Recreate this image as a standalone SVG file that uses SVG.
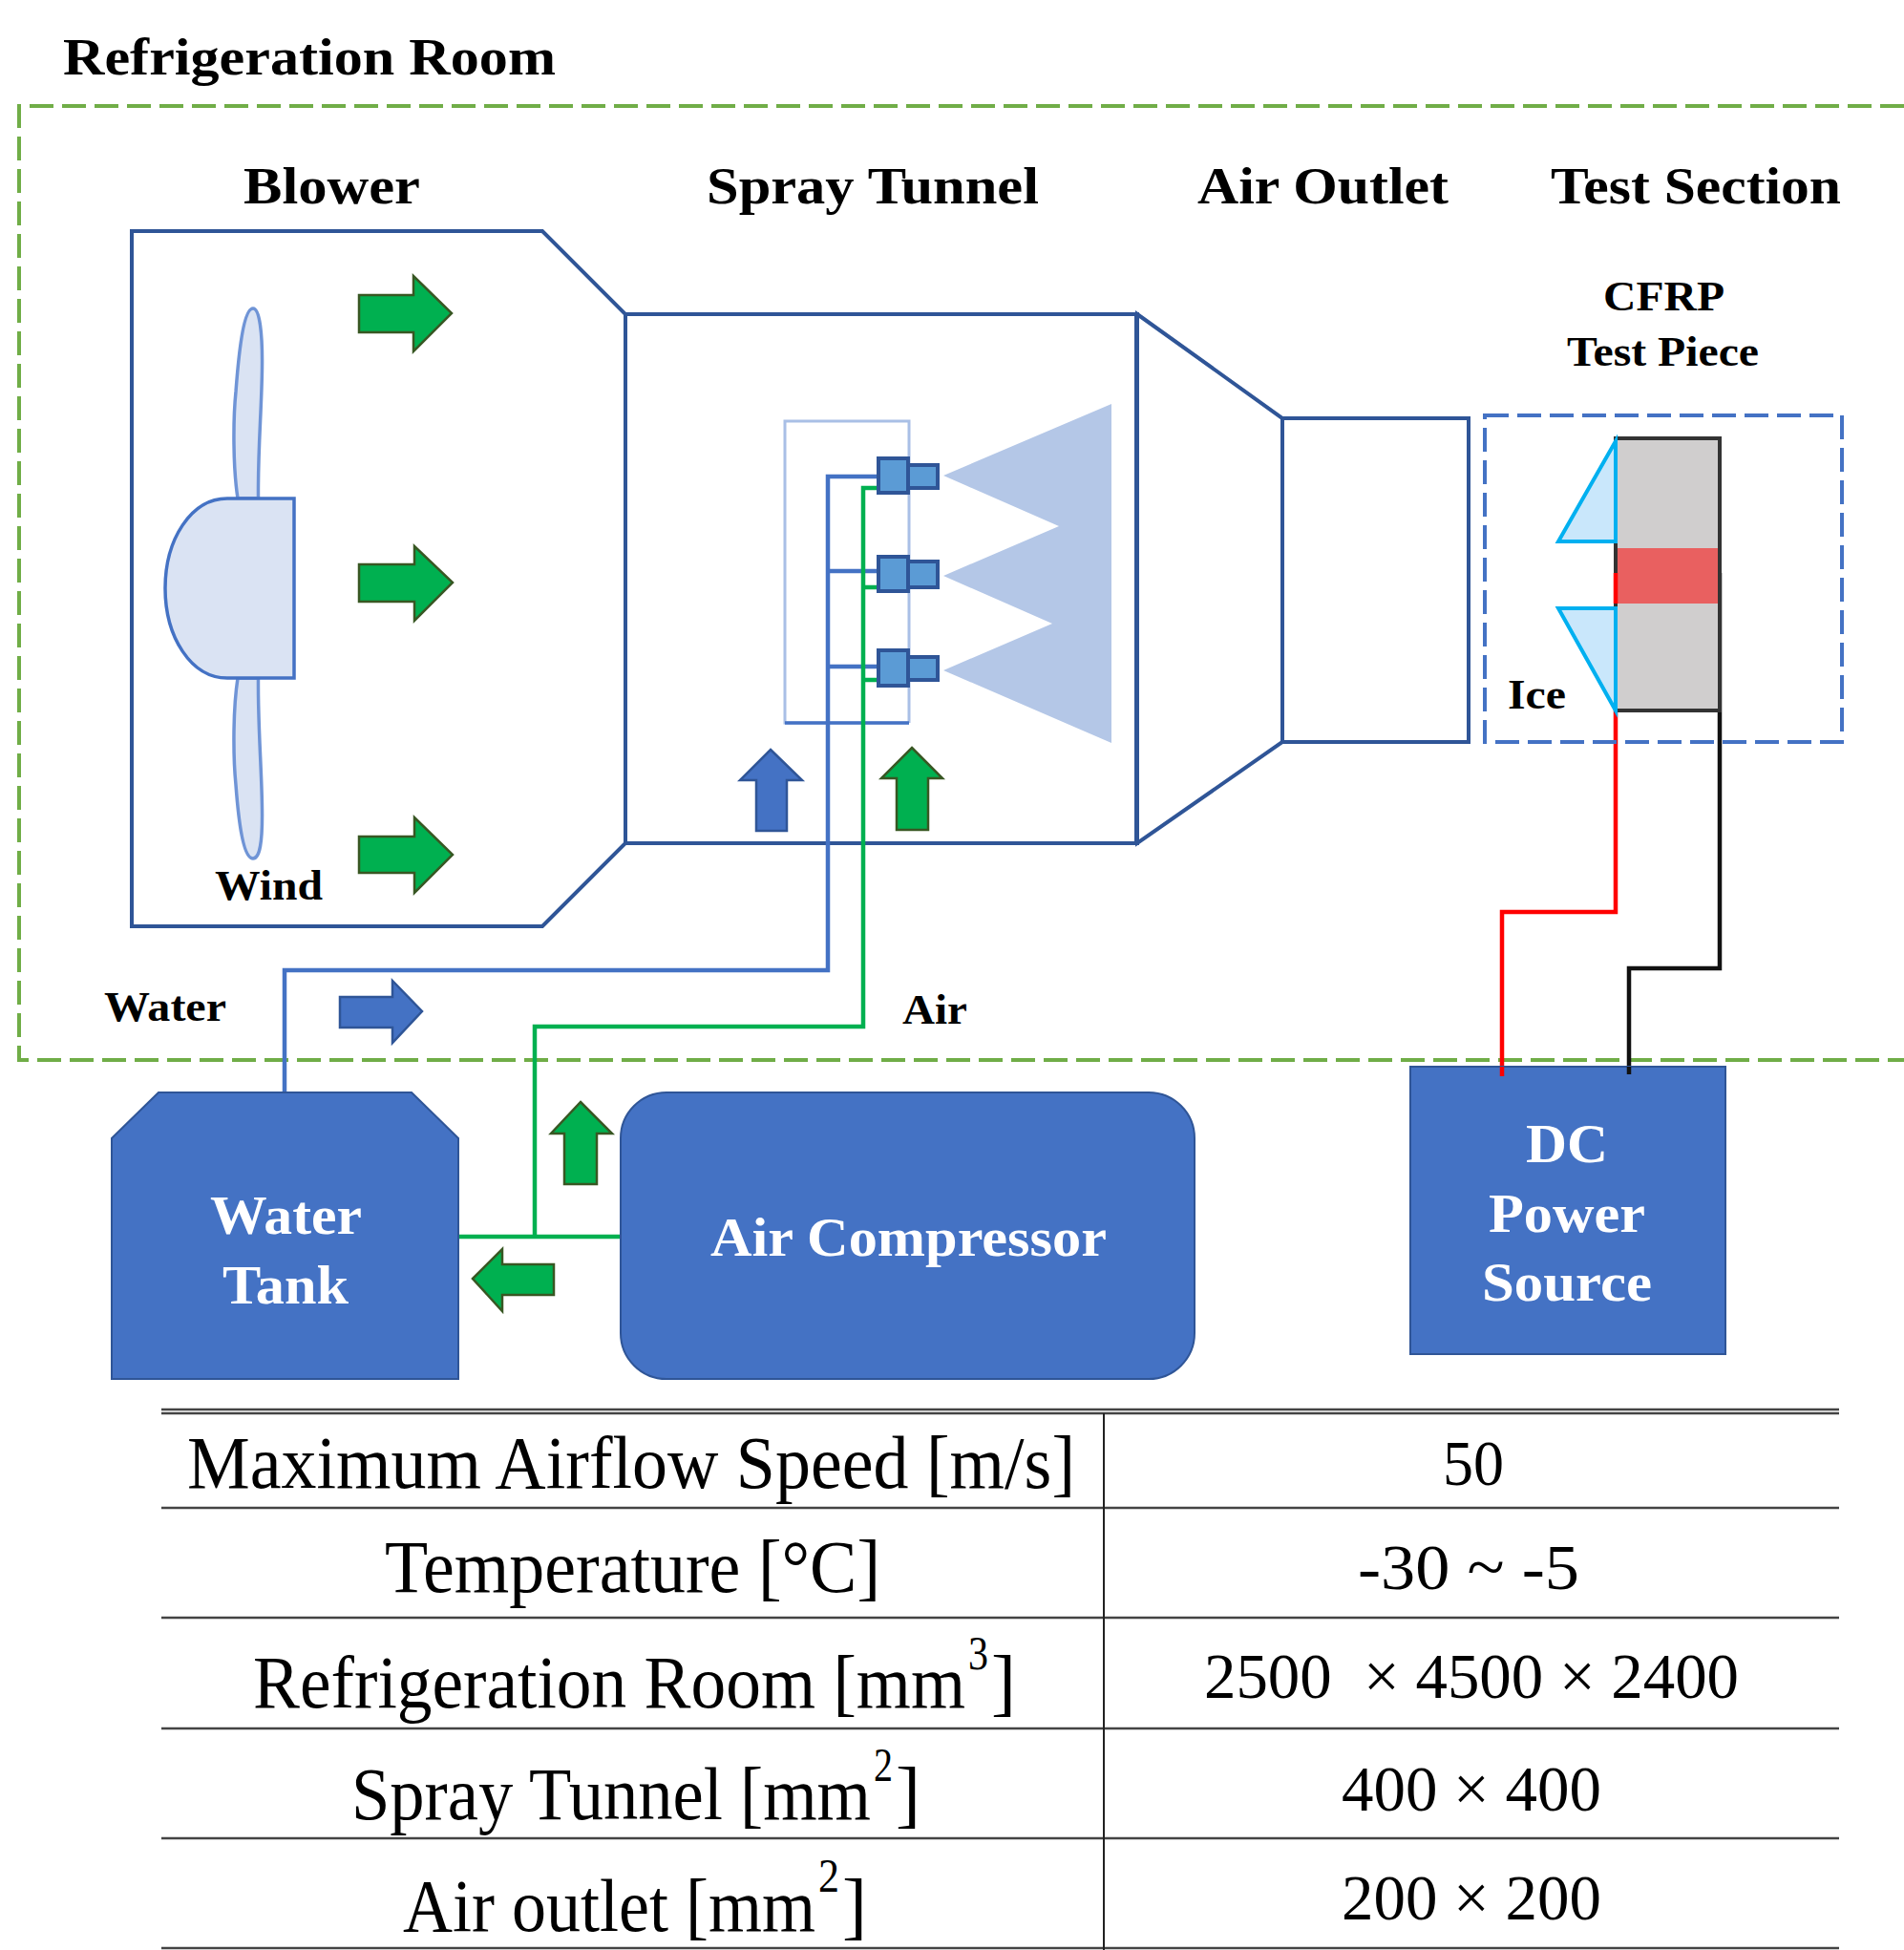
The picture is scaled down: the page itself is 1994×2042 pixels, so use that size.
<svg xmlns="http://www.w3.org/2000/svg" width="1994" height="2042" viewBox="0 0 1994 2042">
<defs>
<style>
text{font-family:"Liberation Serif","Times New Roman",serif}
.b{font-weight:bold;fill:#000}
.l{font-size:54px}
.m{font-size:45px}
.w{font-weight:bold;fill:#fff;font-size:58px}
.t{font-size:78px;fill:#000}
.n{font-size:68px;fill:#000}
.s{font-size:50px;fill:#000}
.duct{fill:#fff;stroke:#2f5597;stroke-width:4;stroke-linejoin:miter}
.ga{fill:#00b050;stroke:#385723;stroke-width:2.5}
.ba{fill:#4472c4;stroke:#2f5597;stroke-width:2.5}
.pipe{fill:none;stroke:#4472c4;stroke-width:4.5}
.air{fill:none;stroke:#00b050;stroke-width:4.5}
.fan{fill:#dae3f3;stroke:#4472c4;stroke-width:3.5}
.blade{fill:#dae3f3;stroke:#6f94d6;stroke-width:3.5}
.noz{fill:#5b9bd5;stroke:#2f5597;stroke-width:4}
.ice{fill:#c9e7fb;stroke:#00b0f0;stroke-width:4}
.box{fill:#4472c4;stroke:#2f5597;stroke-width:2}
.rule{stroke:#444;stroke-width:2.5}
</style>
</defs>
<rect width="1994" height="2042" fill="#fff"/>

<g id="refrigeration-room">
<path d="M1994 111H20V1110H1994" fill="none" stroke="#70ad47" stroke-width="4" stroke-dasharray="25 9"/>
<text class="b l" x="66" y="78" textLength="516" lengthAdjust="spacingAndGlyphs">Refrigeration Room</text>
</g>

<g id="blower">
<path class="duct" d="M138 242H568L655 329V883L568 970H138Z"/>
<text class="b l" x="255" y="213" textLength="185" lengthAdjust="spacingAndGlyphs">Blower</text>
<path class="blade" d="M249 522C244 490 244 440 247 410C250 370 255 323 265 323C272 323 275 350 274.5 385C274 430 270 470 270.5 522Z"/>
<path class="blade" d="M249 710C244 742 244 792 247 822C250 862 255 899 265 899C272 899 275 882 274.5 847C274 802 270 762 270.5 710Z"/>
<path class="fan" d="M308 522H238C200 522 173 565 173 616C173 667 200 710 238 710H308Z"/>
<text class="b m" x="225" y="942" textLength="113" lengthAdjust="spacingAndGlyphs">Wind</text>
<path class="ga" d="M376 309H433V289L473 328L433 368V348H376Z"/>
<path class="ga" d="M376 591H434V572L474 610L434 650V630H376Z"/>
<path class="ga" d="M376 876H434V856L474 895L434 935V914H376Z"/>
</g>

<g id="spray-tunnel">
<rect class="duct" x="655" y="329" width="536" height="554"/>
<path d="M1191 329V883" stroke="#2f5597" stroke-width="6"/>
<text class="b l" x="740" y="213" textLength="348" lengthAdjust="spacingAndGlyphs">Spray Tunnel</text>
<path d="M988 498L1164 423V778L988 702L1102 653L988 603L1109 551Z" fill="#b4c7e7"/>
<path d="M952 757H822V441H952V757" fill="none" stroke="#a9bfe6" stroke-width="3"/>
<path d="M822 757H952" fill="none" stroke="#4472c4" stroke-width="3.5"/>
<path class="ba" d="M807 785L840 817H824V870H792V817H775Z"/>
<path class="ga" d="M955 783L987 815H972V869H939V815H923Z"/>
</g>

<g id="air-outlet">
<path class="duct" d="M1191 329L1343 438V777L1191 883Z"/>
<rect class="duct" x="1343" y="438" width="195" height="339"/>
<text class="b l" x="1254" y="213" textLength="263" lengthAdjust="spacingAndGlyphs">Air Outlet</text>
</g>

<g id="connectors">
<path class="pipe" d="M298 1144V1016H867V499H920"/>
<path class="pipe" d="M865 598H920M865 698H920"/>
<path class="air" d="M920 511H904V1075H560V1295"/>
<path class="air" d="M904 615H920M904 712H920"/>
<path class="air" d="M479 1295H650" stroke-width="6"/>
<path d="M1692 730V955H1573V1127" fill="none" stroke="#f00" stroke-width="4.5"/>
<path d="M1801 600V1014H1706V1125" fill="none" stroke="#111" stroke-width="4.5"/>
</g>

<g id="nozzles">
<rect class="noz" x="951" y="487" width="31" height="24"/><rect class="noz" x="920" y="480" width="31" height="36"/>
<rect class="noz" x="951" y="588" width="31" height="27"/><rect class="noz" x="920" y="583" width="31" height="36"/>
<rect class="noz" x="951" y="688" width="31" height="24"/><rect class="noz" x="920" y="681" width="31" height="37"/>
</g>

<g id="test-section">
<rect x="1555" y="435" width="374" height="342" fill="none" stroke="#4472c4" stroke-width="4" stroke-dasharray="25 9"/>
<text class="b l" x="1624" y="213" textLength="304" lengthAdjust="spacingAndGlyphs">Test Section</text>
<text class="b m" x="1679" y="325" textLength="127" lengthAdjust="spacingAndGlyphs">CFRP</text>
<text class="b m" x="1641" y="383" textLength="201" lengthAdjust="spacingAndGlyphs">Test Piece</text>
<rect x="1692" y="459" width="109" height="285" fill="#d0cece" stroke="#333" stroke-width="4"/>
<rect x="1694" y="574" width="105" height="58" fill="#e96060"/>
<path d="M1692 600V632" stroke="#f00" stroke-width="4.5"/>
<path class="ice" d="M1692 462L1632 567H1692Z"/>
<path class="ice" d="M1632 637H1692V744Z"/>
<text class="b m" x="1579" y="742" textLength="61" lengthAdjust="spacingAndGlyphs">Ice</text>
</g>

<g id="water-line-label">
<text class="b m" x="109" y="1069" textLength="128" lengthAdjust="spacingAndGlyphs">Water</text>
<path class="ba" d="M356 1044H411V1027L442 1059L411 1092V1076H356Z"/>
</g>

<g id="air-line-label">
<text class="b m" x="945" y="1072" textLength="68" lengthAdjust="spacingAndGlyphs">Air</text>
<path class="ga" d="M608 1154L641 1187H625V1240H591V1187H577Z"/>
<path class="ga" d="M495 1339L526 1308V1324H580V1356H526V1373Z"/>
</g>

<g id="water-tank">
<path class="box" d="M166 1144H431L480 1192V1444H117V1192Z"/>
<text class="w" x="220" y="1292" textLength="159" lengthAdjust="spacingAndGlyphs">Water</text>
<text class="w" x="233" y="1365" textLength="132" lengthAdjust="spacingAndGlyphs">Tank</text>
</g>

<g id="air-compressor">
<rect class="box" x="650" y="1144" width="601" height="300" rx="48" ry="48"/>
<text class="w" x="744" y="1315" textLength="415" lengthAdjust="spacingAndGlyphs">Air Compressor</text>
</g>

<g id="dc-power-source">
<rect class="box" x="1477" y="1117" width="330" height="301"/>
<path d="M1573 1117V1127" stroke="#f00" stroke-width="4.5"/>
<path d="M1706 1117V1125" stroke="#111" stroke-width="4.5"/>
<text class="w" x="1598" y="1217" textLength="86" lengthAdjust="spacingAndGlyphs">DC</text>
<text class="w" x="1559" y="1290" textLength="164" lengthAdjust="spacingAndGlyphs">Power</text>
<text class="w" x="1552" y="1362" textLength="178" lengthAdjust="spacingAndGlyphs">Source</text>
</g>

<g id="table">
<path class="rule" d="M169 1476H1926M169 1480H1926M169 1579H1926M169 1694H1926M169 1810H1926M169 1925H1926M169 2040H1926"/>
<path d="M1156 1480V2042" stroke="#222" stroke-width="2"/>
<text class="t" x="196" y="1558" textLength="930" lengthAdjust="spacingAndGlyphs">Maximum Airflow Speed [m/s]</text>
<text class="t" x="403" y="1667" textLength="519" lengthAdjust="spacingAndGlyphs">Temperature [°C]</text>
<text class="t" x="265" y="1788" textLength="746" lengthAdjust="spacingAndGlyphs">Refrigeration Room [mm</text>
<text class="s" x="1014" y="1748" textLength="21" lengthAdjust="spacingAndGlyphs">3</text>
<text class="t" x="1038" y="1788">]</text>
<text class="t" x="368" y="1905" textLength="544" lengthAdjust="spacingAndGlyphs">Spray Tunnel [mm</text>
<text class="s" x="915" y="1865" textLength="20" lengthAdjust="spacingAndGlyphs">2</text>
<text class="t" x="938" y="1905">]</text>
<text class="t" x="422" y="2022" textLength="432" lengthAdjust="spacingAndGlyphs">Air outlet [mm</text>
<text class="s" x="857" y="1981" textLength="22" lengthAdjust="spacingAndGlyphs">2</text>
<text class="t" x="882" y="2022">]</text>
<text class="n" x="1511" y="1555" textLength="64" lengthAdjust="spacingAndGlyphs">50</text>
<text class="n" x="1422" y="1664" textLength="232" lengthAdjust="spacingAndGlyphs">-30 ~ -5</text>
<text class="n" x="1261" y="1778" textLength="560" lengthAdjust="spacingAndGlyphs" xml:space="preserve">2500  × 4500 × 2400</text>
<text class="n" x="1405" y="1896" textLength="272" lengthAdjust="spacingAndGlyphs">400 × 400</text>
<text class="n" x="1405" y="2010" textLength="272" lengthAdjust="spacingAndGlyphs">200 × 200</text>
</g>
</svg>
